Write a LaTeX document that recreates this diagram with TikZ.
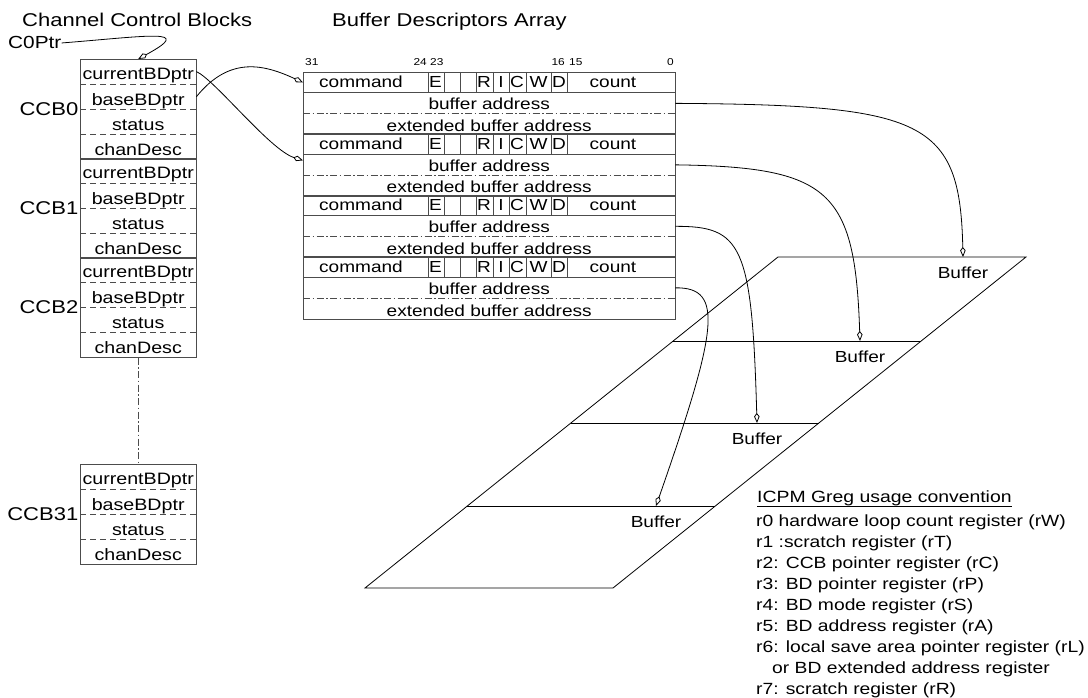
\documentclass[tikz,border=0pt]{standalone}
\usepackage{fontspec}
\setmainfont{Liberation Sans}[FakeStretch=1.19]
\usetikzlibrary{arrows.meta,calc}
\begin{document}
\begin{tikzpicture}[x=1pt,y=-1pt,
  frame/.style={draw=black!70, line width=0.9pt},
  dashsep/.style={draw=black!70, line width=0.9pt, dash pattern=on 6pt off 4pt},
  dotsep/.style={draw=black!70, line width=0.9pt, dash pattern=on 7pt off 2.5pt on 1.5pt off 2.5pt},
  link/.style={draw=black, line width=0.8pt, -{Kite[open,fill=white,length=10pt,width=5.5pt,inset=3.5pt]}},
  cell/.style={minimum width=116pt, minimum height=24.75pt, inner sep=0pt, text height=20.75pt, text depth=4pt, font=\fontsize{16.5}{19}\selectfont},
  ccblab/.style={inner sep=1.5pt, font=\fontsize{18.5}{21}\selectfont},
  cmdrow/.style={minimum width=372pt, minimum height=20.5pt, inner sep=0pt},
  bufrow/.style={minimum width=372pt, minimum height=20.5pt, inner sep=0pt, text height=16.5pt, text depth=4pt, font=\fontsize{16}{19}\selectfont},
  extrow/.style={minimum width=372pt, minimum height=20.5pt, inner sep=0pt, text height=17.5pt, text depth=3pt, font=\fontsize{16}{19}\selectfont},
  fieldtxt/.style={inner sep=0pt, font=\fontsize{16}{19}\selectfont},
  bitlab/.style={inner sep=0pt, font=\fontsize{10}{12}\selectfont},
  buflab/.style={anchor=north, inner sep=0pt, text height=21pt, text depth=0pt, font=\fontsize{16}{19}\selectfont},
  titletxt/.style={inner sep=0pt, font=\fontsize{18.5}{22}\selectfont},
  legtitle/.style={inner sep=0pt, font=\fontsize{16.3}{21}\selectfont},
  legline/.style={inner sep=0pt, font=\fontsize{16.2}{21}\selectfont},
  plane/.style={draw=black, line width=0.8pt}
]
\fill[white] (0,0) rectangle (1088,698);
\useasboundingbox (0,0) rectangle (1088,698);

% titles
\node[titletxt,anchor=base west] (ttlccb) at (22,27) {Channel Control Blocks};
\node[titletxt,anchor=base west] (ttlbd) at (332,27) {Buffer Descriptors Array};
\node[inner sep=0pt, font=\fontsize{17.5}{21}\selectfont, anchor=base west] (c0ptr) at (8,49) {C0Ptr};

% channel control blocks
\foreach \k/\yy in {0/59,1/158,2/257,31/464}{
  \node[cell,anchor=north west] (cur\k) at (80,\yy) {currentBDptr};
  \node[cell,anchor=north] (base\k) at (cur\k.south) {baseBDptr};
  \node[cell,anchor=north] (stat\k) at (base\k.south) {status};
  \node[cell,anchor=north] (chan\k) at (stat\k.south) {chanDesc};
  \draw[dashsep] (cur\k.south west) -- (cur\k.south east);
  \draw[dashsep] (base\k.south west) -- (base\k.south east);
  \draw[dashsep] (stat\k.south west) -- (stat\k.south east);
  \draw[frame] (cur\k.north west) rectangle (chan\k.south east);
  \node[ccblab,anchor=east] (lab\k) at (base\k.south west) {CCB\k};
}
\draw[dotsep] (chan2.south) -- (cur31.north);

% buffer descriptors
\node[bitlab,anchor=base west] (bit31) at (305,66) {31};
\node[bitlab,anchor=base east] (bit24) at (427,66) {24};
\node[bitlab,anchor=base west] (bit23) at (430,66) {23};
\node[bitlab,anchor=base east] (bit16) at (565,66) {16};
\node[bitlab,anchor=base west] (bit15) at (569,66) {15};
\node[bitlab,anchor=base east] (bit0) at (674,66) {0};

\foreach \k in {0,1,2,3}{
  \pgfmathsetmacro{\T}{72+61.5*\k}
  \node[cmdrow,anchor=north west] (cmd\k) at (303,\T) {};
  \node[bufrow,anchor=north] (buf\k) at (cmd\k.south) {buffer address};
  \node[extrow,anchor=north] (ext\k) at (buf\k.south) {extended buffer address};
  \draw[frame] (cmd\k.south west) -- (cmd\k.south east);
  \draw[dotsep] (buf\k.south west) -- (buf\k.south east);
  \draw[frame] (cmd\k.north west) rectangle (ext\k.south east);
  \foreach \xx in {428,444,460,476,493,509,526,551,567}
    \draw[frame] (\xx,\T) -- (\xx,{\T+20.5});
  \foreach \nm/\tx/\xx in {a/command/361, b/E/435.5, c/R/484, d/I/501, e/C/517, f/W/538.5, g/D/559, h/count/613}
    \node[fieldtxt,anchor=base] (f\nm\k) at (\xx,{\T+16}) {\tx};
}

% pointers from CCB0
\coordinate (tgt1) at ($(buf1.north west)+(0,6)$);
\draw[link] (c0ptr.east) .. controls (150,36) and (195,28) .. (cur0.north);
\draw[link] (cur0.east) .. controls (215,80) and (270,150) .. (tgt1);
\draw[link] (base0.east) .. controls (230,55) and (265,65) .. (cmd0.west);

% buffer area
\draw[plane] (778,257) -- (1026,257) -- (613,588) -- (365,588) -- cycle;
\draw[plane] (673.2,341) -- (921.2,341);
\draw[plane] (570.9,423) -- (818.9,423);
\draw[plane] (467.3,506) -- (715.3,506);
\node[buflab] (B0) at (963,257) {Buffer};
\node[buflab] (B1) at (860,341) {Buffer};
\node[buflab] (B2) at (757,423) {Buffer};
\node[buflab] (B3) at (656,506) {Buffer};

\draw[link] (buf0.east) .. controls (925,105) and (960,120) .. (B0.north);
\draw[link] (buf1.east) .. controls (830,167) and (855,190) .. (B1.north);
\draw[link] (buf2.east) .. controls (742,226) and (752,245) .. (B2.north);
\draw[link] (buf3.east) .. controls (725,287) and (717,331) .. (B3.north);

% legend
\node[legtitle,anchor=base west] (legt) at (757,502) {ICPM Greg usage convention};
\draw[black, line width=0.8pt] ($(legt.south west)+(0,1)$) -- ($(legt.south east)+(0,1)$);
\foreach \tx [count=\i from 0] in {r0 hardware loop count register (rW),
  r1 :scratch register (rT),
  r2: CCB pointer register (rC),
  r3: BD pointer register (rP),
  r4: BD mode register (rS),
  r5: BD address register (rA),
  r6: local save area pointer register (rL),
  \hspace*{16pt}or BD extended address register,
  r7: scratch register (rR)}
  \node[legline,anchor=base west] (leg\i) at (756,{526+21*\i}) {\tx};
\end{tikzpicture}
\end{document}
